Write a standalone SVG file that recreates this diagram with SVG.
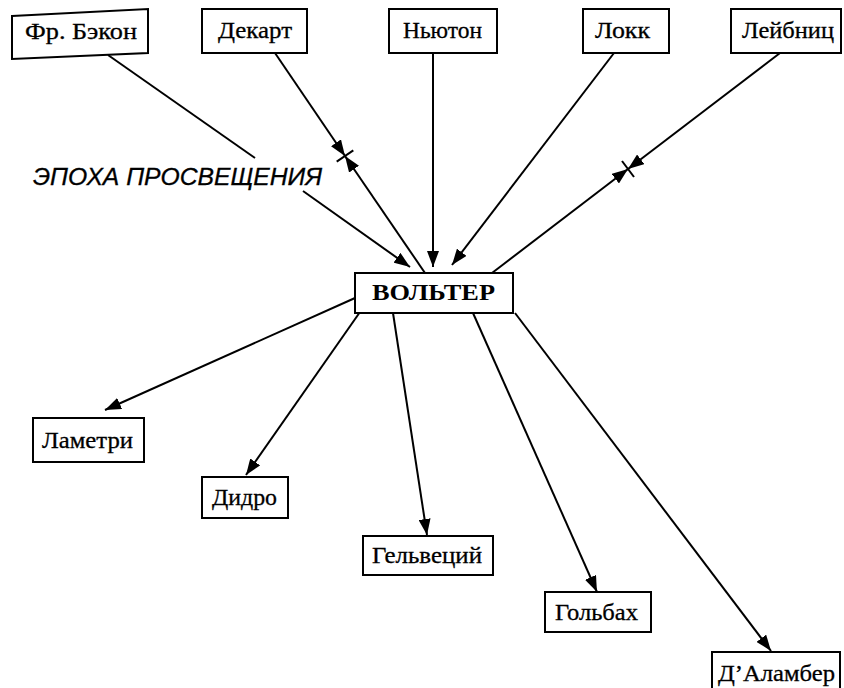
<svg xmlns="http://www.w3.org/2000/svg" width="844" height="688" viewBox="0 0 844 688">
<style>
.box{fill:#fff;stroke:#000;stroke-width:2}
.t{font-family:"Liberation Serif","DejaVu Serif",serif;font-size:23px;fill:#000;stroke:#000;stroke-width:0.3}
.tb{font-family:"Liberation Serif","DejaVu Serif",serif;font-size:23px;font-weight:bold;fill:#000}
.lab{font-family:"Liberation Sans","DejaVu Sans",sans-serif;font-size:23px;font-style:italic;fill:#000;stroke:#000;stroke-width:0.3}
.ln{stroke:#000;stroke-width:2;fill:none}
.ar{stroke:#000;stroke-width:2;fill:none;marker-end:url(#arr)}
</style>
<defs>
<marker id="arr" markerUnits="userSpaceOnUse" markerWidth="16" markerHeight="12" refX="16" refY="6" orient="auto">
<path d="M0,0 L16,6 L0,12 z" fill="#000"/>
</marker>
</defs>
<rect width="844" height="688" fill="#fff"/>
<g id="connectors">
<line class="ln" x1="108" y1="55" x2="255" y2="158"/>
<line class="ar" x1="303" y1="191" x2="410" y2="267"/>
<line class="ar" x1="275" y1="53" x2="345" y2="156"/>
<line class="ar" x1="425" y1="273" x2="345" y2="156"/>
<line class="ln" x1="336.7" y1="161.6" x2="353.3" y2="150.4"/>
<line class="ar" x1="433" y1="53" x2="433" y2="267"/>
<line class="ar" x1="614" y1="53" x2="452" y2="265"/>
<line class="ar" x1="780" y1="53" x2="628" y2="169"/>
<line class="ar" x1="492" y1="273" x2="628" y2="169"/>
<line class="ln" x1="622" y1="161" x2="634" y2="177"/>
<line class="ar" x1="355" y1="298" x2="105" y2="410"/>
<line class="ar" x1="360" y1="312" x2="246" y2="475"/>
<line class="ar" x1="393" y1="313" x2="427" y2="535"/>
<line class="ar" x1="473" y1="313" x2="597" y2="592"/>
<line class="ar" x1="515" y1="313" x2="771" y2="651"/>
</g>
<text class="lab" x="33" y="185" textLength="289" lengthAdjust="spacingAndGlyphs">ЭПОХА ПРОСВЕЩЕНИЯ</text>
<g id="bacon"><polygon class="box" points="12,16 148,9 148,53 12,59"/><text class="t" x="25" y="39" textLength="112" lengthAdjust="spacingAndGlyphs">Фр. Бэкон</text></g>
<g id="descartes"><rect class="box" x="202" y="9" width="105" height="44"/><text class="t" x="218" y="38" textLength="74" lengthAdjust="spacingAndGlyphs">Декарт</text></g>
<g id="newton"><rect class="box" x="389" y="9" width="108" height="44"/><text class="t" x="403" y="38" textLength="79" lengthAdjust="spacingAndGlyphs">Ньютон</text></g>
<g id="locke"><rect class="box" x="583" y="9" width="86" height="44"/><text class="t" x="595" y="38" textLength="55" lengthAdjust="spacingAndGlyphs">Локк</text></g>
<g id="leibniz"><rect class="box" x="731" y="9" width="110" height="44"/><text class="t" x="742" y="38" textLength="92" lengthAdjust="spacingAndGlyphs">Лейбниц</text></g>
<g id="voltaire"><rect class="box" x="355" y="273" width="158" height="40"/><text class="tb" x="372" y="300" textLength="123" lengthAdjust="spacingAndGlyphs">ВОЛЬТЕР</text></g>
<g id="lamettrie"><rect class="box" x="33" y="418" width="111" height="44"/><text class="t" x="42" y="448" textLength="91" lengthAdjust="spacingAndGlyphs">Ламетри</text></g>
<g id="diderot"><rect class="box" x="202" y="477" width="86" height="41"/><text class="t" x="212" y="505" textLength="65" lengthAdjust="spacingAndGlyphs">Дидро</text></g>
<g id="helvetius"><rect class="box" x="363" y="536" width="130" height="39"/><text class="t" x="372" y="563" textLength="110" lengthAdjust="spacingAndGlyphs">Гельвеций</text></g>
<g id="holbach"><rect class="box" x="545" y="592" width="106" height="40"/><text class="t" x="555" y="620" textLength="83" lengthAdjust="spacingAndGlyphs">Гольбах</text></g>
<g id="dalembert"><rect class="box" x="712" y="652" width="128" height="40"/><text class="t" x="718" y="681" textLength="117" lengthAdjust="spacingAndGlyphs">Д’Аламбер</text></g>
</svg>
